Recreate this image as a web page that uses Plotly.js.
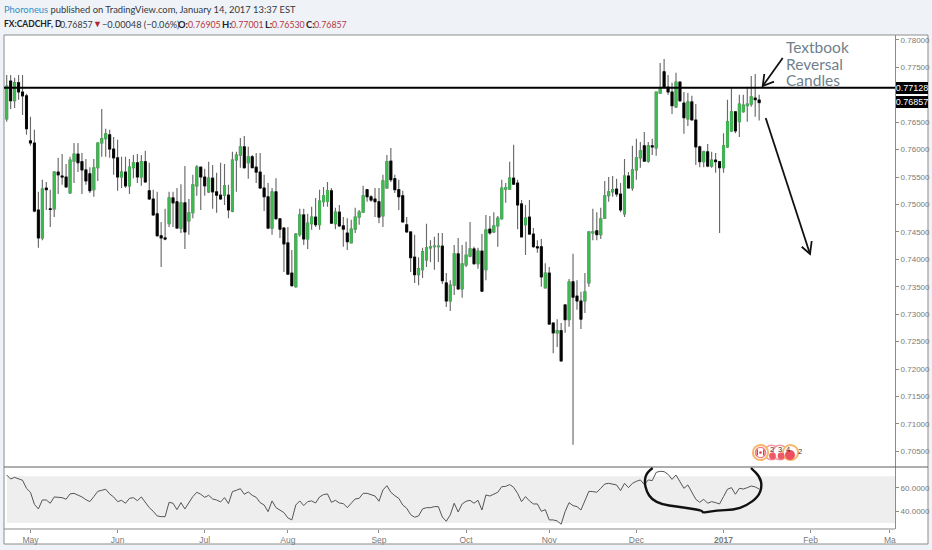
<!DOCTYPE html>
<html>
<head>
<meta charset="utf-8">
<script src="https://cdn.plot.ly/plotly-3.0.1.min.js"></script>
<style>html,body{margin:0;padding:0;background:#eff3f8}#chart{width:932px;height:550px}</style>
</head>
<body>
<div id="chart"></div>
<script>
const openP = [
0.7656,0.7725,0.7689,0.7722,0.7705,0.7698,0.7616,0.7612,0.7490,0.7439,
0.7530,0.7492,0.7492,0.7559,0.7552,0.7550,0.7521,0.7579,0.7592,0.7578,
0.7563,0.7556,0.7527,0.7567,0.7612,0.7620,0.7627,0.7601,0.7585,0.7550,
0.7559,0.7534,0.7567,0.7576,0.7550,0.7578,0.7525,0.7510,0.7483,0.7443,
0.7439,0.7465,0.7512,0.7505,0.7457,0.7503,0.7470,0.7485,0.7534,0.7568,
0.7550,0.7523,0.7548,0.7523,0.7517,0.7517,0.7517,0.7488,0.7581,0.7590,
0.7605,0.7576,0.7587,0.7568,0.7559,0.7530,0.7514,0.7457,0.7523,0.7474,
0.7457,0.7430,0.7375,0.7350,0.7445,0.7481,0.7437,0.7465,0.7477,0.7463,
0.7505,0.7506,0.7525,0.7465,0.7486,0.7461,0.7448,0.7430,0.7455,0.7477,
0.7486,0.7527,0.7514,0.7510,0.7505,0.7479,0.7530,0.7579,0.7547,0.7527,
0.7516,0.7463,0.7450,0.7404,0.7372,0.7381,0.7399,0.7421,0.7423,0.7423,
0.7424,0.7357,0.7324,0.7353,0.7410,0.7346,0.7390,0.7406,0.7419,0.7392,
0.7415,0.7381,0.7455,0.7450,0.7461,0.7474,0.7528,0.7528,0.7548,0.7539,
0.7501,0.7463,0.7477,0.7446,0.7423,0.7423,0.7348,0.7375,0.7284,0.7266,
0.7270,0.7317,0.7290,0.7359,0.7333,0.7324,0.7324,0.7357,0.7448,0.7452,
0.7445,0.7475,0.7516,0.7523,0.7528,0.7519,0.7483,0.7552,0.7530,0.7563,
0.7585,0.7607,0.7579,0.7607,0.7603,0.7703,0.7742,0.7714,0.7705,0.7678,
0.7723,0.7685,0.7656,0.7687,0.7654,0.7605,0.7578,0.7596,0.7570,0.7581,
0.7578,0.7567,0.7605,0.7634,0.7669,0.7651,0.7669,0.7680,0.7683,0.7694,
0.76905];
const highP = [
0.7736,0.7736,0.7731,0.7736,0.7736,0.7702,0.7660,0.7636,0.7523,0.7545,
0.7541,0.7527,0.7561,0.7585,0.7592,0.7574,0.7587,0.7612,0.7612,0.7594,
0.7583,0.7568,0.7583,0.7614,0.7674,0.7638,0.7636,0.7623,0.7618,0.7587,
0.7587,0.7583,0.7590,0.7592,0.7590,0.7598,0.7576,0.7527,0.7523,0.7468,
0.7492,0.7523,0.7523,0.7530,0.7537,0.7570,0.7510,0.7554,0.7572,0.7568,
0.7565,0.7578,0.7572,0.7558,0.7576,0.7574,0.7536,0.7596,0.7596,0.7621,
0.7625,0.7605,0.7590,0.7594,0.7594,0.7554,0.7539,0.7530,0.7548,0.7474,
0.7459,0.7459,0.7417,0.7448,0.7492,0.7492,0.7483,0.7496,0.7512,0.7527,
0.7532,0.7541,0.7530,0.7494,0.7499,0.7477,0.7475,0.7472,0.7494,0.7490,
0.7534,0.7528,0.7517,0.7530,0.7530,0.7554,0.7590,0.7603,0.7554,0.7545,
0.7525,0.7477,0.7450,0.7445,0.7404,0.7421,0.7465,0.7435,0.7441,0.7448,
0.7448,0.7375,0.7362,0.7426,0.7439,0.7426,0.7432,0.7468,0.7423,0.7421,
0.7446,0.7481,0.7479,0.7486,0.7479,0.7545,0.7539,0.7578,0.7609,0.7545,
0.7508,0.7499,0.7508,0.7457,0.7435,0.7437,0.7393,0.7386,0.7284,0.7291,
0.7284,0.7317,0.7364,0.7410,0.7362,0.7341,0.7375,0.7450,0.7492,0.7486,
0.7494,0.7543,0.7550,0.7552,0.7547,0.7539,0.7583,0.7559,0.7607,0.7620,
0.7614,0.7632,0.7614,0.7620,0.7705,0.7758,0.7765,0.7736,0.7722,0.7740,
0.7725,0.7705,0.7703,0.7698,0.7683,0.7607,0.7598,0.7610,0.7596,0.7594,
0.7578,0.7630,0.7691,0.7712,0.7669,0.7700,0.7700,0.7712,0.7734,0.7738,
0.77001];
const lowP = [
0.7651,0.7674,0.7676,0.7691,0.7663,0.7627,0.7607,0.7486,0.7421,0.7435,
0.7490,0.7459,0.7477,0.7519,0.7536,0.7530,0.7519,0.7539,0.7559,0.7519,
0.7536,0.7521,0.7514,0.7543,0.7587,0.7587,0.7585,0.7554,0.7525,0.7530,
0.7530,0.7519,0.7548,0.7539,0.7534,0.7539,0.7508,0.7479,0.7441,0.7386,
0.7435,0.7459,0.7459,0.7457,0.7448,0.7419,0.7445,0.7475,0.7516,0.7490,
0.7516,0.7521,0.7492,0.7485,0.7508,0.7499,0.7475,0.7486,0.7523,0.7567,
0.7565,0.7547,0.7567,0.7539,0.7528,0.7488,0.7455,0.7445,0.7472,0.7439,
0.7377,0.7373,0.7350,0.7348,0.7441,0.7426,0.7419,0.7454,0.7459,0.7454,
0.7496,0.7496,0.7465,0.7455,0.7459,0.7423,0.7417,0.7430,0.7448,0.7463,
0.7486,0.7505,0.7505,0.7477,0.7466,0.7459,0.7528,0.7541,0.7521,0.7490,
0.7468,0.7448,0.7377,0.7357,0.7353,0.7366,0.7386,0.7395,0.7381,0.7395,
0.7355,0.7313,0.7306,0.7335,0.7344,0.7330,0.7386,0.7404,0.7390,0.7383,
0.7341,0.7362,0.7445,0.7448,0.7423,0.7472,0.7503,0.7527,0.7536,0.7455,
0.7441,0.7408,0.7445,0.7421,0.7412,0.7350,0.7348,0.7282,0.7229,0.7240,
0.7213,0.7266,0.7277,0.7062,0.7308,0.7273,0.7302,0.7350,0.7435,0.7435,
0.7437,0.7474,0.7505,0.7514,0.7514,0.7486,0.7477,0.7530,0.7525,0.7545,
0.7567,0.7578,0.7576,0.7590,0.7589,0.7703,0.7712,0.7700,0.7665,0.7676,
0.7687,0.7629,0.7643,0.7654,0.7572,0.7568,0.7568,0.7568,0.7567,0.7558,
0.7448,0.7558,0.7603,0.7632,0.7630,0.7623,0.7667,0.7651,0.7678,0.7660,
0.76530];
const closeP = [
0.7716,0.7689,0.7722,0.7705,0.7698,0.7638,0.7612,0.7488,0.7439,0.7528,
0.7527,0.7491,0.7559,0.7554,0.7550,0.7532,0.7581,0.7592,0.7576,0.7563,
0.7543,0.7525,0.7567,0.7612,0.7620,0.7629,0.7601,0.7585,0.7550,0.7559,
0.7534,0.7568,0.7576,0.7550,0.7578,0.7541,0.7510,0.7481,0.7443,0.7439,
0.7437,0.7512,0.7503,0.7457,0.7503,0.7450,0.7485,0.7536,0.7568,0.7550,
0.7534,0.7548,0.7523,0.7517,0.7510,0.7534,0.7490,0.7581,0.7590,0.7605,
0.7567,0.7587,0.7567,0.7559,0.7530,0.7514,0.7457,0.7523,0.7474,0.7455,
0.7428,0.7373,0.7352,0.7446,0.7481,0.7437,0.7466,0.7477,0.7463,0.7506,
0.7516,0.7525,0.7466,0.7486,0.7461,0.7455,0.7432,0.7455,0.7477,0.7486,
0.7516,0.7514,0.7508,0.7505,0.7477,0.7543,0.7578,0.7545,0.7527,0.7514,
0.7468,0.7450,0.7403,0.7372,0.7383,0.7414,0.7421,0.7423,0.7424,0.7424,
0.7361,0.7324,0.7353,0.7410,0.7346,0.7392,0.7408,0.7419,0.7392,0.7415,
0.7342,0.7454,0.7448,0.7461,0.7475,0.7530,0.7531,0.7548,0.7537,0.7499,
0.7441,0.7475,0.7446,0.7423,0.7421,0.7368,0.7375,0.7282,0.7266,0.7270,
0.7215,0.7290,0.7359,0.7331,0.7324,0.7291,0.7341,0.7450,0.7450,0.7445,
0.7474,0.7516,0.7523,0.7527,0.7519,0.7490,0.7552,0.7530,0.7563,0.7585,
0.7598,0.7579,0.7607,0.7605,0.7705,0.7712,0.7714,0.7705,0.7680,0.7723,
0.7689,0.7658,0.7687,0.7654,0.7605,0.7578,0.7596,0.7570,0.7581,0.7578,
0.7567,0.7607,0.7651,0.7669,0.7634,0.7683,0.7681,0.7683,0.7696,0.7691,
0.76857];
const rsi = [
71.1,67.7,69.1,68,66.6,59.7,56.3,46,42,49.7,49.7,46.9,52.3,52,51.7,50.3,54.9,55.4,54,52.3,
50,48.3,52.6,57.1,58,58.9,54.9,52.3,48.3,49.4,46.9,51.1,51.7,49.1,52.3,47.7,43.1,40,36,35.4,
35.4,47.7,46.9,41.4,47.4,42,46.9,52.6,56.3,54.6,52,53.7,50.6,49.7,48,51.7,46.6,56.9,58,59.4,
54.6,56.6,53.7,52,47.4,45.4,39.7,48.9,43.1,41.1,38.9,34.3,32.6,45.4,48.9,44.9,48.3,48.9,47.1,52.3,
54.3,54.9,47.7,49.4,47.1,46.6,43.1,46.9,50.6,51.1,55.4,55.4,54,53.1,48.6,58.3,62,56.3,53.4,51.1,
45.4,42.6,37.1,34.9,36,42,43.1,43.1,44,44,35.1,31.4,36.9,46.9,39.4,46.3,48.6,49.4,
46.9,49.4,41.1,54,53.1,54.6,56.3,61.1,61.4,62.9,60.6,55.4,48.3,52.6,48.9,46.3,46.3,40,41.4,32.6,
32.6,31.7,28.9,39.7,47.4,44.9,44,41.1,49.7,57.1,56.9,56.3,59.7,63.4,64,63.4,62.6,57.7,64,60.3,
64,65.7,66.9,62.9,66.9,66.3,73.4,74.3,74,71.7,67.4,71.1,65.4,59.7,62.6,56.9,50.3,47.7,50.3,46.9,
48.3,47.4,46.3,52.6,58.9,60.3,54.6,59.7,59.1,60.3,61.7,60.9,59.1];
const priceTicks = [0.705,0.71,0.715,0.72,0.725,0.73,0.735,0.74,0.745,0.75,0.755,0.76,0.765,0.775,0.78];
const rsiTicks = [40,60];
const monthTickIndex = [6,28,50,71,94,116,137,159,181,203,223];
const monthTickText = ['May','Jun','Jul','Aug','Sep','Oct','Nov','Dec','<b>2017</b>','Feb','Ma'];
const resistance = 0.77128;
const lastClose = 0.76857;
const annotationLines = ['Textbook','Reversal','Candles'];

const idx = openP.map((_, i) => i);
const bodyHi = openP.map((o, i) => Math.max(o, closeP[i]));
const bodyLo = openP.map((o, i) => Math.min(o, closeP[i]));
const PX = x => (x - 4) / 891;
const PY = y => 1 - (y - 35) / 494;
const AXF = '"Liberation Sans",Arial,sans-serif';
const LAT = 'Lato,"Liberation Sans",sans-serif';
const GREEN = '#3cbc4f';

const wicks = {
  type: 'candlestick', x: idx, open: openP, high: highP, low: lowP, close: closeP,
  xaxis: 'x', yaxis: 'y', width: 0.02, whiskerwidth: 0, hoverinfo: 'skip',
  increasing: {line: {color: '#6a6a6a', width: 1.15}, fillcolor: '#6a6a6a'},
  decreasing: {line: {color: '#6a6a6a', width: 1.15}, fillcolor: '#6a6a6a'}
};
const bodies = {
  type: 'candlestick', x: idx, open: openP, high: bodyHi, low: bodyLo, close: closeP,
  xaxis: 'x', yaxis: 'y', width: 0.78, whiskerwidth: 0, hoverinfo: 'skip',
  increasing: {line: {color: GREEN, width: 0.8}, fillcolor: GREEN},
  decreasing: {line: {color: '#000', width: 0.8}, fillcolor: '#000'}
};
const rsiLine = {
  type: 'scatter', mode: 'lines', x: idx, y: rsi, xaxis: 'x', yaxis: 'y2',
  line: {color: '#555', width: 1}, hoverinfo: 'skip'
};

function pxPath(pts) { return pts.map((p, i) => (i ? 'L' : 'M') + PX(p[0]) + ',' + PY(p[1])).join(' '); }
function smoothPath(pts) {
  let d = 'M' + PX(pts[0][0]) + ',' + PY(pts[0][1]);
  for (let i = 1; i < pts.length - 1; i++) {
    const mx = (pts[i][0] + pts[i + 1][0]) / 2, my = (pts[i][1] + pts[i + 1][1]) / 2;
    d += ' Q' + PX(pts[i][0]) + ',' + PY(pts[i][1]) + ' ' + PX(mx) + ',' + PY(my);
  }
  const l = pts[pts.length - 1];
  return d + ' L' + PX(l[0]) + ',' + PY(l[1]);
}
function lineShape(path, color, width) {
  return {type: 'path', xref: 'paper', yref: 'paper', path: path, line: {color: color, width: width}};
}
function rectPx(x0, y0, x1, y1, fill, lineColor, lw, layer) {
  return {type: 'rect', xref: 'paper', yref: 'paper', x0: PX(x0), x1: PX(x1), y0: PY(y0), y1: PY(y1),
    fillcolor: fill, line: {color: lineColor, width: lw}, layer: layer || 'above'};
}
function circlePx(cx, cy, r, fill, stroke, w) {
  return {type: 'circle', xref: 'paper', yref: 'paper', x0: PX(cx - r), x1: PX(cx + r), y0: PY(cy + r), y1: PY(cy - r),
    fillcolor: fill, line: {color: stroke, width: w}};
}

const ring = [[548,84],[530,97],[523,125],[530,155],[545,178],[575,193],[620,200],[660,205],[697,212],[698,219],
  [740,211],[790,210],[830,197],[865,170],[876,140],[870,110],[843,84]]
  .map(p => [470 + p[0] / 3, 440 + p[1] / 3]);

const shapes = [
  rectPx(4, 35, 928, 544, '#fff', '#8c8c8c', 1, 'below'),
  {type: 'rect', xref: 'paper', yref: 'y2', x0: PX(7), x1: 1, y0: 30, y1: 70, fillcolor: '#eeeeee', line: {width: 0}, layer: 'below'},
  lineShape(pxPath([[4, 467], [928, 467]]), '#5f5f5f', 1),
  lineShape(pxPath([[4, 529], [895, 529]]), '#8c8c8c', 1.2),
  {type: 'line', xref: 'paper', yref: 'y', x0: 0, x1: 1, y0: resistance, y1: resistance, line: {color: '#000', width: 2}},
  lineShape(pxPath([[782.7, 58], [762.7, 86]]), '#111', 1.8),
  lineShape(pxPath([[764.3, 74], [762.7, 86], [774, 81.7]]), '#111', 1.8),
  lineShape(pxPath([[765.7, 118], [810, 254]]), '#111', 1.8),
  lineShape(pxPath([[811.7, 241], [810, 254], [801.7, 246.7]]), '#111', 1.8),
  lineShape(smoothPath(ring), '#111', 2.4),
  circlePx(771.5, 452.5, 7.2, '#fff', '#f29aa6', 1.6),
  circlePx(780, 452.5, 7.2, '#fff', '#f29aa6', 1.6),
  circlePx(790.5, 452.5, 7.6, '#fff', '#f8b56a', 2),
  circlePx(760.5, 452.5, 7.6, '#fff', '#f8b56a', 2),
  circlePx(760.5, 452.5, 5.2, '#fff', '#ef7f86', 1.2),
  circlePx(772.5, 456, 3.4, '#ee5a68', '#ee5a68', 0),
  circlePx(781, 456, 3.4, '#ee5a68', '#ee5a68', 0),
  circlePx(790, 455, 5, '#ee4f5e', '#ee4f5e', 0),
  rectPx(756.5, 449.5, 758, 455.5, '#e8394a', '#e8394a', 0),
  rectPx(763, 449.5, 764.5, 455.5, '#e8394a', '#e8394a', 0),
  circlePx(760.5, 452.5, 1.3, '#e8394a', '#e8394a', 0)
];

function ann(text, x, y, size, color, family, extra) {
  return Object.assign({text: text, xref: 'paper', yref: 'paper', x: PX(x), y: PY(y), xanchor: 'left', yanchor: 'middle',
    showarrow: false, align: 'left', font: {size: size, color: color, family: family}, borderpad: 0, borderwidth: 0}, extra || {});
}
const HS = 9.4, NS = 8.8, RED = '#b5353f', INK = '#33373c';
const annotations = [
  ann('<span style="color:#2f8fc6">Phoroneus</span> published on TradingView.com, January 14, 2017 13:37 EST', 4, 9.5, HS, INK, LAT),
  ann('<b>FX:CADCHF, D</b>', 4, 24, 8.5, '#222', LAT),
  ann('0.76857', 60, 24, NS, INK, LAT),
  ann('▼', 92.5, 24, 9, '#b3242e', AXF),
  ann('−0.00048 (−0.06%)', 102, 24, 9.2, INK, LAT),
  ann('<b>O:</b>', 178, 24, HS, '#222', LAT),
  ann('0.76905', 188, 24, NS, RED, LAT),
  ann('<b>H:</b>', 222, 24, HS, '#222', LAT),
  ann('0.77001', 231, 24, NS, RED, LAT),
  ann('<b>L:</b>', 265, 24, HS, '#222', LAT),
  ann('0.76530', 272, 24, NS, RED, LAT),
  ann('<b>C:</b>', 306, 24, HS, '#222', LAT),
  ann('0.76857', 314, 24, NS, RED, LAT),
  ann(annotationLines[0], 786, 47, 15.5, '#6f7f8d', LAT),
  ann(annotationLines[1], 786, 63.5, 15.5, '#6f7f8d', LAT),
  ann(annotationLines[2], 786, 80.5, 15.5, '#6f7f8d', LAT),
  ann(resistance.toFixed(5), 912, 87.5, 9, '#fff', AXF, {xanchor: 'center', bgcolor: '#000', width: 32, height: 11.5, align: 'center'}),
  ann(lastClose.toFixed(5), 912, 102, 9, '#fff', AXF, {xanchor: 'center', bgcolor: '#000', width: 32, height: 11.5, align: 'center'}),
  ann('2', 771.7, 449.5, 7.5, '#333', AXF, {xanchor: 'center'}),
  ann('3', 779.7, 449.5, 7.5, '#333', AXF, {xanchor: 'center'}),
  ann('4', 788.3, 449.5, 7.5, '#333', AXF, {xanchor: 'center'}),
  ann('2', 800, 451.5, 7.5, '#333', AXF, {xanchor: 'center'})
];

const tickFont = {size: 8, color: '#7a7a7a', family: AXF};
const layout = {
  width: 932, height: 550,
  margin: {l: 4, r: 37, t: 35, b: 21, pad: 0},
  paper_bgcolor: '#eff3f8', plot_bgcolor: 'rgba(0,0,0,0)',
  showlegend: false, dragmode: false,
  xaxis: {
    domain: [0, 1], range: [-0.68, 224.3], anchor: 'y2', showgrid: false, zeroline: false,
    rangeslider: {visible: false}, tickmode: 'array', tickvals: monthTickIndex, ticktext: monthTickText,
    ticks: 'outside', ticklen: 3, tickcolor: '#8c8c8c', tickfont: Object.assign({}, tickFont, {size: 8.5}), showline: false
  },
  yaxis: {
    domain: [62 / 494, 1], range: [0.70215, 0.78089], side: 'right', anchor: 'x', showgrid: false, zeroline: false,
    tickmode: 'array', tickvals: priceTicks, ticktext: priceTicks.map(v => v.toFixed(5)),
    ticks: 'outside', ticklen: 3, tickcolor: '#8c8c8c', tickfont: tickFont, showline: true, linecolor: '#8c8c8c', linewidth: 1
  },
  yaxis2: {
    domain: [0, 62 / 494], range: [24.8, 78], side: 'right', anchor: 'x', showgrid: false, zeroline: false,
    tickmode: 'array', tickvals: rsiTicks, ticktext: rsiTicks.map(v => v.toFixed(4)),
    ticks: 'outside', ticklen: 3, tickcolor: '#8c8c8c', tickfont: tickFont, showline: true, linecolor: '#8c8c8c', linewidth: 1
  },
  shapes: shapes,
  annotations: annotations
};
Plotly.newPlot('chart', [rsiLine, wicks, bodies], layout, {displayModeBar: false, staticPlot: true});
</script>
</body>
</html>
